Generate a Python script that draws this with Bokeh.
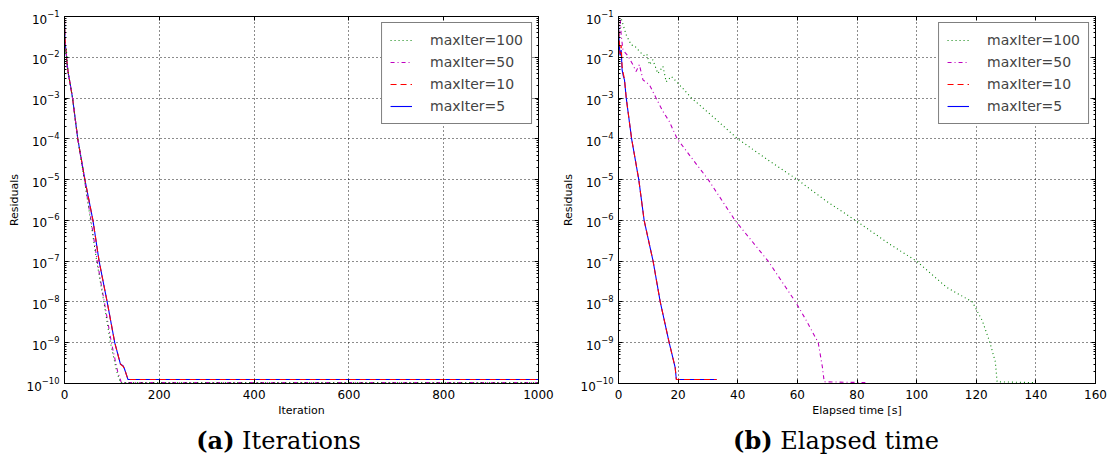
from bokeh.plotting import figure
from bokeh.layouts import row, column
from bokeh.models import (Legend, LegendItem, Div, FixedTicker, LinearAxis, LogAxis)
from bokeh.embed import file_html
from bokeh.resources import INLINE

# ---------------- data ----------------
series_names = ["maxIter=100", "maxIter=50", "maxIter=10", "maxIter=5"]

# (a) residual vs iteration
it_100 = [0, 1, 2, 4, 6, 8, 10, 17, 28, 42, 55, 68, 83, 97, 110, 118, 1000]
res_it_100 = [9e-2, 2e-2, 1.2e-2, 1.6e-2, 6e-3, 4e-3, 3e-3, 1e-3, 1e-4, 1e-5, 1e-6, 1e-7, 1e-8, 1e-9, 2e-10, 1.05e-10, 1.05e-10]
it_50 = [0, 1, 2, 4, 6, 8, 10, 17, 28, 42, 56, 69, 84, 99, 112, 120, 1000]
res_it_50 = [8e-2, 2.5e-2, 1.5e-2, 1.2e-2, 5e-3, 4e-3, 3e-3, 1e-3, 1e-4, 1e-5, 1e-6, 1e-7, 1e-8, 1e-9, 2e-10, 1.05e-10, 1.05e-10]
it_10 = [0, 1, 3, 5, 8, 10, 17, 28, 43, 60, 73, 90, 106, 118, 124, 127, 134, 1000]
res_it_10 = [9e-2, 3e-2, 1.6e-2, 8e-3, 4e-3, 3e-3, 1e-3, 1e-4, 1e-5, 1e-6, 1e-7, 1e-8, 1e-9, 3e-10, 2.6e-10, 2.2e-10, 1.25e-10, 1.25e-10]
it_5 = [0, 1, 3, 5, 8, 10, 17, 28, 43, 60, 73, 90, 106, 118, 124, 127, 134, 1000]
res_it_5 = [8e-2, 2.5e-2, 1.5e-2, 8e-3, 4e-3, 3e-3, 1e-3, 1e-4, 1e-5, 1e-6, 1e-7, 1e-8, 1e-9, 3e-10, 2.7e-10, 2.2e-10, 1.25e-10, 1.25e-10]

# (b) residual vs elapsed time [s]
t_100 = [1.0, 2.6, 4.3, 5.4, 7.0, 8.5, 9.5, 10.4, 11.5, 13.2, 14.9, 16.0, 17.7, 20.0, 24.5, 30.1, 40.0, 50.5, 60.0, 69.6, 79.5, 91.0, 100.0, 110.0, 118.7, 122.0, 124.6, 126.4, 127.0, 139.6]
res_t_100 = [8.5e-2, 3.5e-2, 2e-2, 1.9e-2, 1.4e-2, 1.1e-2, 1.2e-2, 6.6e-3, 8.7e-3, 4e-3, 6e-3, 2.5e-3, 3.4e-3, 2.3e-3, 1e-3, 4.4e-4, 1e-4, 2.9e-5, 1e-5, 3e-6, 1e-6, 2.6e-7, 1e-7, 2.3e-8, 1e-8, 3.5e-9, 1e-9, 3.4e-10, 1.1e-10, 1.05e-10]
t_50 = [0.6, 0.9, 1.5, 3.1, 4.8, 5.9, 7.0, 8.2, 10.4, 12.6, 14.9, 17.0, 19.7, 24.8, 30.1, 39.1, 50.2, 59.4, 63.0, 67.0, 68.4, 69.0, 82.8]
res_t_50 = [8.3e-2, 3.5e-2, 1.5e-2, 1.1e-2, 6.6e-3, 4.5e-3, 6.6e-3, 2.8e-3, 2.1e-3, 1e-3, 4.7e-4, 2.7e-4, 1e-4, 3.2e-5, 1e-5, 1e-6, 1e-7, 1e-8, 3.5e-9, 1e-9, 2.5e-10, 1.1e-10, 1.05e-10]
t_10 = [0.0, 0.2, 0.5, 0.9, 1.2, 1.6, 2.0, 2.6, 4.4, 6.8, 8.6, 11.6, 14.0, 17.0, 19.0, 19.4, 32.9]
res_t_10 = [8e-2, 3e-2, 1.2e-2, 2e-2, 6e-3, 4e-3, 3e-3, 1e-3, 1e-4, 1e-5, 1e-6, 1e-7, 1e-8, 1e-9, 2.5e-10, 1.25e-10, 1.25e-10]
t_5 = [0.0, 0.2, 0.5, 0.9, 1.2, 1.6, 2.0, 2.6, 4.4, 6.8, 8.6, 11.6, 14.0, 17.0, 19.0, 19.4, 32.9]
res_t_5 = [7e-2, 2.5e-2, 1.1e-2, 1.5e-2, 5e-3, 3.5e-3, 2.8e-3, 1e-3, 1e-4, 1e-5, 1e-6, 1e-7, 1e-8, 1e-9, 2.5e-10, 1.25e-10, 1.25e-10]

x_ticks_a = [0, 200, 400, 600, 800, 1000]
x_ticks_b = [0, 20, 40, 60, 80, 100, 120, 140, 160]
decades = [1e-10, 1e-9, 1e-8, 1e-7, 1e-6, 1e-5, 1e-4, 1e-3, 1e-2, 1e-1]
captions = [("(a)", "Iterations"), ("(b)", "Elapsed time")]

# ---------------- style ----------------
colors = ["#008000", "#bf00bf", "#ff0000", "#0000ff"]
dashes = ["1 3", "4 3 1 3", "6 4", "solid"]
FONT = "DejaVu Sans"
minor = [d * k for d in decades[:-1] for k in range(2, 10)]


def make_fig(width, xr, xticks, xlabel, left, right, xs, ys):
    p = figure(width=width, height=420, y_axis_type="log", x_range=xr, y_range=(1e-10, 1e-1),
               output_backend="svg", toolbar_location=None,
               min_border_left=left, min_border_right=right, min_border_top=16, min_border_bottom=37)
    p.background_fill_color = "white"
    p.outline_line_color = "black"
    p.outline_line_width = 1

    yt = FixedTicker(ticks=decades, minor_ticks=minor)
    xt = FixedTicker(ticks=xticks)
    p.yaxis.ticker = yt
    p.xaxis.ticker = xt
    for ax in p.xaxis + p.yaxis:
        ax.major_label_text_font = FONT
        ax.major_label_text_font_size = "12px"
        ax.major_label_text_color = "black"
        ax.axis_label_text_font = FONT
        ax.axis_label_text_font_size = "11px"
        ax.axis_label_text_font_style = "normal"
        ax.axis_label_text_color = "black"
        ax.axis_line_color = "black"
        ax.major_tick_line_color = "black"
        ax.major_tick_in = 4
        ax.major_tick_out = 0
        ax.minor_tick_in = 2
        ax.minor_tick_out = 0
    p.xaxis.major_label_standoff = 6
    p.xaxis.axis_label_standoff = 2
    p.yaxis.major_label_standoff = 5
    p.yaxis.axis_label_standoff = 3
    p.xaxis.minor_tick_line_color = None
    p.xaxis.axis_label = xlabel
    p.yaxis.axis_label = "Residuals"

    # mirrored inward ticks on the top and right borders
    top = LinearAxis(ticker=xt, major_label_text_font_size="1px", major_label_text_color=None,
                     major_tick_in=4, major_tick_out=0, minor_tick_line_color=None,
                     major_label_standoff=0, axis_line_color="black")
    rgt = LogAxis(ticker=yt, major_label_text_font_size="1px", major_label_text_color=None,
                  major_tick_in=4, major_tick_out=0, minor_tick_in=2, minor_tick_out=0,
                  major_label_standoff=0, axis_line_color="black")
    p.add_layout(top, "above")
    p.add_layout(rgt, "right")

    for g in (p.xgrid, p.ygrid):
        g.grid_line_color = "black"
        g.grid_line_dash = "1 3"
        g.grid_line_width = 1
        g.grid_line_alpha = 0.9

    rs = [None] * 4
    for i in [3, 2, 1, 0]:
        rs[i] = p.line(xs[i], ys[i], line_color=colors[i], line_dash=dashes[i], line_width=1.1)

    legend = Legend(items=[LegendItem(label=n, renderers=[r]) for n, r in zip(series_names, rs)],
                    location="top_right", margin=6, padding=8, spacing=4,
                    glyph_width=22, glyph_height=18, label_height=18, label_standoff=18,
                    label_text_font=FONT, label_text_font_size="14px",
                    border_line_color="black", border_line_width=1, background_fill_alpha=1)
    p.add_layout(legend, "center")
    return p


def make_caption(width, bold, text):
    return Div(text=f"<b>{bold}</b>&nbsp;{text}", width=width, height=44, margin=(0, 0, 0, 0),
               styles={"text-align": "center", "font-family": "DejaVu Serif", "font-size": "24px",
                       "line-height": "42px", "color": "black", "width": f"{width}px"})


p1 = make_fig(557, (0, 1000), x_ticks_a, "Iteration", 64, 19,
              [it_100, it_50, it_10, it_5], [res_it_100, res_it_50, res_it_10, res_it_5])
p2 = make_fig(558, (0, 160), x_ticks_b, "Elapsed time [s]", 61, 20,
              [t_100, t_50, t_10, t_5], [res_t_100, res_t_50, res_t_10, res_t_5])

c1 = make_caption(557, *captions[0])
c2 = make_caption(558, *captions[1])

layout = column(row(p1, p2), row(c1, c2))
open("out.html", "w").write(file_html(layout, INLINE))
